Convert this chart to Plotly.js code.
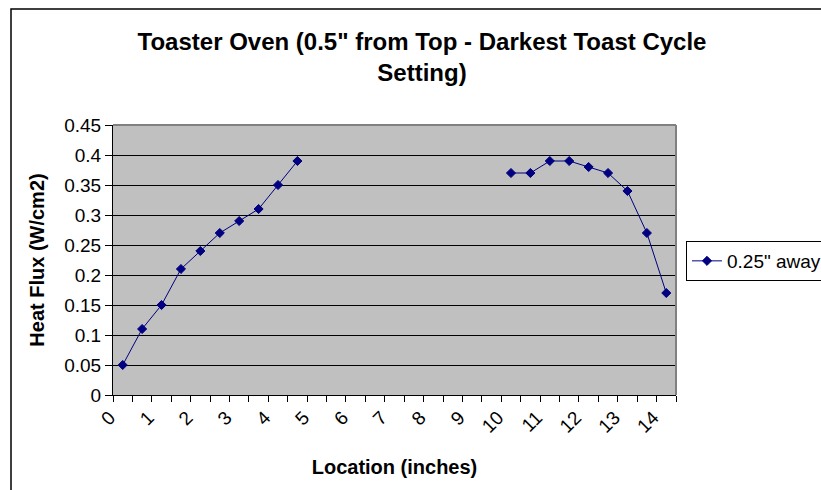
<!DOCTYPE html>
<html>
<head>
<meta charset="utf-8">
<script src="https://cdn.plot.ly/plotly-3.0.1.min.js"></script>
<style>
  html, body { margin: 0; padding: 0; background: #fff; }
  #chart { width: 821px; height: 490px; }
</style>
</head>
<body>
<div id="chart"></div>
<script>
// Data
const locationInches = [0, 0.5, 1, 1.5, 2, 2.5, 3, 3.5, 4, 4.5,
                        5, 5.5, 6, 6.5, 7, 7.5, 8, 8.5, 9, 9.5,
                        10, 10.5, 11, 11.5, 12, 12.5, 13, 13.5, 14];
const heatFlux = [0.05, 0.11, 0.15, 0.21, 0.24, 0.27, 0.29, 0.31, 0.35, 0.39,
                  null, null, null, null, null, null, null, null, null, null,
                  0.37, 0.37, 0.39, 0.39, 0.38, 0.37, 0.34, 0.27, 0.17];
const seriesName = '0.25" away';
const xTickVals = [0, 1, 2, 3, 4, 5, 6, 7, 8, 9, 10, 11, 12, 13, 14];
const xTickText = ['0', '1', '2', '3', '4', '5', '6', '7', '8', '9', '10', '11', '12', '13', '14'];
const yTickVals = [0, 0.05, 0.1, 0.15, 0.2, 0.25, 0.3, 0.35, 0.4, 0.45];
const yTickText = ['0', '0.05', '0.1', '0.15', '0.2', '0.25', '0.3', '0.35', '0.4', '0.45'];

const FONT = '"Liberation Sans", Arial, sans-serif';

// margins (px) -> plot area
const M = { l: 113, r: 145, t: 125, b: 95 };
const W = 821, H = 490;
const pw = W - M.l - M.r, ph = H - M.t - M.b;
const px = v => (v - M.l) / pw;
const py = v => (H - M.b - v) / ph;

const trace = {
  type: 'scatter',
  mode: 'lines+markers',
  x: locationInches,
  y: heatFlux,
  name: seriesName,
  connectgaps: false,
  line: { color: '#000080', width: 1 },
  marker: { symbol: 'diamond', size: 7, color: '#000080', line: { color: '#000080', width: 1 } }
};

const layout = {
  width: W, height: H,
  margin: M,
  paper_bgcolor: '#ffffff',
  plot_bgcolor: '#c0c0c0',
  font: { family: FONT, color: '#000', size: 19 },
  title: {
    text: '<b>Toaster Oven (0.5" from Top - Darkest Toast Cycle<br>Setting)</b>',
    font: { family: FONT, size: 24, color: '#000' },
    xref: 'container', yref: 'container',
    x: 422 / W, xanchor: 'center',
    y: 1 - 50 / H, yanchor: 'top'
  },
  showlegend: true,
  legend: {
    xref: 'container', yref: 'container',
    x: 686 / W, xanchor: 'left',
    y: 1 - 241 / H, yanchor: 'top',
    bgcolor: '#ffffff',
    bordercolor: '#000',
    borderwidth: 1,
    font: { family: FONT, size: 19, color: '#000' }
  },
  xaxis: {
    range: [-0.25, 14.25],
    tickmode: 'array',
    tickvals: xTickVals,
    ticktext: xTickText,
    tickangle: -45,
    ticks: '',
    ticklabelshift: -13,
    ticklabelstandoff: 3,
    tickfont: { family: FONT, size: 19, color: '#000' },
    showgrid: false,
    zeroline: false,
    showline: true, linecolor: '#000', linewidth: 1,
    minor: { tickmode: 'linear', tick0: -0.25, dtick: 0.5, ticks: 'outside', ticklen: 6, tickcolor: '#000', tickwidth: 1, showgrid: false },
    title: { text: '<b>Location (inches)</b>', font: { family: FONT, size: 20, color: '#000' }, standoff: 24 },
    automargin: false,
    fixedrange: true
  },
  yaxis: {
    range: [0, 0.45],
    tickmode: 'array',
    tickvals: yTickVals,
    ticktext: yTickText,
    ticks: 'outside', ticklen: 7, tickcolor: '#000', tickwidth: 1,
    tickfont: { family: FONT, size: 19, color: '#000' },
    showgrid: true, gridcolor: '#000', gridwidth: 1,
    zeroline: false,
    showline: true, linecolor: '#000', linewidth: 1,
    title: { text: '<b>Heat Flux (W/cm2)</b>', font: { family: FONT, size: 20, color: '#000' }, standoff: 14 },
    automargin: false,
    fixedrange: true
  },
  shapes: [
    // outer chart-area border (extends beyond the window on right and bottom)
    { type: 'rect', xref: 'paper', yref: 'paper', x0: px(11), x1: px(840), y0: py(9), y1: py(520),
      line: { color: '#000', width: 1.5 }, fillcolor: 'rgba(0,0,0,0)', layer: 'below' },
    // grey plot-area border (top and right)
    { type: 'line', xref: 'paper', yref: 'paper', x0: 0, x1: 1, y0: 1, y1: 1, line: { color: '#808080', width: 2 }, layer: 'above' },
    { type: 'line', xref: 'paper', yref: 'paper', x0: 1, x1: 1, y0: 0, y1: 1, line: { color: '#808080', width: 2 }, layer: 'above' }
  ]
};

Plotly.newPlot('chart', [trace], layout, { displayModeBar: false, staticPlot: true });
</script>
</body>
</html>
